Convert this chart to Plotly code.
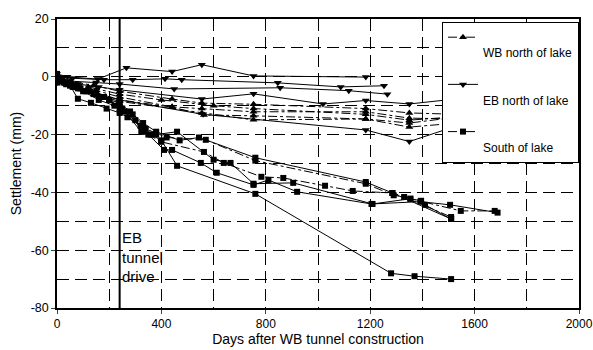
import plotly.graph_objects as go

# ---------------- data (days after WB tunnel construction, settlement mm) ----
# South of lake (squares)
s1_days = [0, 20, 50, 80, 130, 190, 240, 270, 320, 360, 400, 460, 760, 1280, 1370, 1510]
s1_mm = [0, -1.5, -3, -7.6, -9, -11, -12.5, -14, -17, -20, -22, -30.8, -40.5, -68, -69, -70]
s2_days = [0, 15, 40, 90, 150, 200, 240, 280, 330, 380, 470, 544, 760, 1183, 1285, 1510]
s2_mm = [1, -0.5, -2, -4, -6, -8, -9, -12, -16, -19, -22, -21, -28, -36.4, -40.2, -49.2]
s3_days = [0, 25, 60, 110, 170, 240, 290, 340, 420, 570, 760, 1183, 1290, 1330, 1510]
s3_mm = [0, -2, -3.5, -5, -7, -10, -13, -18, -21, -21.8, -29, -37, -41, -41.6, -48.5]
s4_days = [0, 30, 70, 120, 180, 240, 300, 330, 399, 563, 639, 783, 867, 1027, 1133, 1285, 1354, 1547, 1677]
s4_mm = [-1, -2, -3, -5, -7, -11, -15, -19, -22.5, -26, -29.8, -34.6, -35, -37.7, -39.5, -40.2, -42.2, -46.4, -46.4]
s5_days = [0, 10, 50, 100, 160, 220, 260, 350, 410, 441, 551, 612, 753, 810, 920, 1205, 1392, 1506, 1688]
s5_mm = [-2, -1, -3, -5, -8, -10, -12, -20, -25.3, -25.3, -29.8, -33.2, -37.4, -35.7, -39.8, -44, -43.2, -44.3, -47]
s6_days = [0, 35, 80, 140, 200, 250, 323, 380, 460, 600, 665, 753, 905, 1209, 1354, 1395, 1410, 1510]
s6_mm = [0, -2.5, -4, -6, -8, -11, -19, -20, -19, -28.7, -29.8, -37, -36.7, -44, -42.2, -42.9, -44.3, -49.2]

# EB north of lake (inverted triangles)
eb1_days = [0, 40, 156, 266, 441, 555, 753, 1183]
eb1_mm = [1, 0, -0.8, 3.1, 1.8, 4.2, 0.3, -0.1]
eb2_days = [0, 60, 180, 290, 414, 478, 846, 1087, 1253]
eb2_mm = [0, -0.5, -1, -1, -0.7, -1, -2.1, -3.5, -3.1]
eb3_days = [0, 50, 150, 240, 449, 855, 1118, 1266]
eb3_mm = [-1, -1.5, -2, -2.5, -4.2, -3.8, -4.8, -6]
eb4_days = [0, 80, 160, 240, 555, 753, 1019, 1183, 1350, 1494]
eb4_mm = [-1, -2.5, -3.5, -4.5, -7.7, -5.9, -9.4, -8.2, -9.4, -8.0]
eb5_days = [0, 70, 150, 240, 560, 1183, 1350, 1525]
eb5_mm = [-2, -3.5, -5.5, -8, -13, -18.4, -22.4, -17.2]

# WB north of lake (triangles)
wb1_days = [0, 50, 140, 240, 441, 555, 753, 1183, 1350, 1502]
wb1_mm = [0, -1.5, -3, -5, -7.7, -9.1, -9.5, -11, -12.5, -12.9]
wb2_days = [0, 60, 150, 240, 441, 555, 753, 1183, 1350, 1532]
wb2_mm = [-1, -2.5, -4.5, -7, -10.4, -11, -12.1, -12.1, -14.3, -14.6]
wb3_days = [0, 40, 130, 240, 441, 563, 753, 1183, 1350, 1502]
wb3_mm = [-1, -3, -5, -8, -10.5, -13.2, -13.5, -14.6, -16, -14.3]
wb4_days = [0, 70, 160, 240, 555, 753, 1183, 1350, 1532]
wb4_mm = [-2, -4, -6.5, -8.5, -12.5, -14.9, -14.6, -17.4, -16]
wb5_days = [0, 30, 120, 240, 400, 600, 753, 1183, 1350, 1502]
wb5_mm = [0, -1.5, -3.5, -6, -8, -10, -11, -13, -15, -14]

south_series = [(s4_days, s4_mm, "dashdot"), (s1_days, s1_mm, "solid"),
                (s2_days, s2_mm, "solid"), (s3_days, s3_mm, "dashdot"),
                (s5_days, s5_mm, "solid"), (s6_days, s6_mm, "solid")]
eb_series = [(eb1_days, eb1_mm), (eb2_days, eb2_mm), (eb3_days, eb3_mm),
             (eb4_days, eb4_mm), (eb5_days, eb5_mm)]
wb_series = [(wb1_days, wb1_mm), (wb2_days, wb2_mm), (wb3_days, wb3_mm),
             (wb4_days, wb4_mm), (wb5_days, wb5_mm)]

legend_names = ["WB north of lake", "EB north of lake", "South of lake"]
x_ticks = [0, 400, 800, 1200, 1600, 2000]
x_tick_text = ["0", "400", "800", "1200", "1600", "2000"]
y_ticks = [-80, -60, -40, -20, 0, 20]
y_tick_text = ["-80", "-60", "-40", "-20", "0", "20"]
eb_drive_day = 240

FONT = "Liberation Sans, Arial, sans-serif"

fig = go.Figure()

for i, (d, m) in enumerate(wb_series):
    fig.add_trace(go.Scatter(
        x=d, y=m, mode="lines+markers", name="&nbsp;<br>" + legend_names[0],
        legendgroup="wb", showlegend=(i == 0),
        line=dict(color="black", width=1, dash="dashdot"),
        marker=dict(symbol="triangle-up", size=7, color="black")))

for i, (d, m) in enumerate(eb_series):
    fig.add_trace(go.Scatter(
        x=d, y=m, mode="lines+markers", name="&nbsp;<br>" + legend_names[1],
        legendgroup="eb", showlegend=(i == 0),
        line=dict(color="black", width=1, dash="solid"),
        marker=dict(symbol="triangle-down", size=7, color="black")))

for i, (d, m, ds) in enumerate(south_series):
    fig.add_trace(go.Scatter(
        x=d, y=m, mode="lines+markers", name="&nbsp;<br>" + legend_names[2],
        legendgroup="south", showlegend=(i == 0),
        line=dict(color="black", width=1, dash=ds),
        marker=dict(symbol="square", size=6, color="black")))

# EB tunnel drive vertical line
fig.add_shape(type="line", xref="x", yref="paper", x0=eb_drive_day, x1=eb_drive_day,
              y0=0, y1=1, line=dict(color="black", width=2))
fig.add_annotation(x=eb_drive_day, y=-62.5, xref="x", yref="y",
                   text="EB<br>tunnel<br>drive", showarrow=False,
                   xanchor="left", align="left", xshift=0,
                   font=dict(family=FONT, size=15, color="black"))

griddash = "12px,6px"
fig.update_layout(
    width=593, height=350,
    margin=dict(l=57, r=14, t=19, b=42),
    paper_bgcolor="white", plot_bgcolor="white",
    font=dict(family=FONT, size=11, color="black"),
    showlegend=True,
    legend=dict(x=1, xanchor="right", y=0.99, yanchor="top",
                bgcolor="white", bordercolor="black", borderwidth=1,
                font=dict(family=FONT, size=12, color="black"),
                valign="top", tracegroupgap=13, itemwidth=30,
                traceorder="grouped"),
    xaxis=dict(range=[0, 2000], tickvals=x_ticks, ticktext=x_tick_text,
               ticks="outside", ticklen=4, automargin=False,
               ticklabeloverflow="allow",
               showline=True, linecolor="black", linewidth=1.5, mirror=True,
               showgrid=True, gridcolor="black", gridwidth=1, griddash=griddash,
               minor=dict(dtick=200, tick0=0, showgrid=True, gridcolor="black",
                          gridwidth=1, griddash=griddash),
               zeroline=False,
               tickfont=dict(family=FONT, size=12, color="black"),
               title=dict(text="Days after WB tunnel construction", standoff=0,
                          font=dict(family=FONT, size=14, color="black"))),
    yaxis=dict(range=[-80, 20], tickvals=y_ticks, ticktext=y_tick_text,
               ticks="outside", ticklen=4, automargin=False,
               showline=True, linecolor="black", linewidth=1.5, mirror=True,
               showgrid=True, gridcolor="black", gridwidth=1, griddash=griddash,
               minor=dict(dtick=10, tick0=0, showgrid=True, gridcolor="black",
                          gridwidth=1, griddash=griddash),
               zeroline=False,
               tickfont=dict(family=FONT, size=12.5, color="black"),
               title=dict(text="Settlement (mm)", standoff=6,
                          font=dict(family=FONT, size=14, color="black"))),
)

fig.write_html("out.html", config={"displayModeBar": False},
               post_script="document.body.style.margin='0';"
                           "document.body.style.overflow='hidden';")
